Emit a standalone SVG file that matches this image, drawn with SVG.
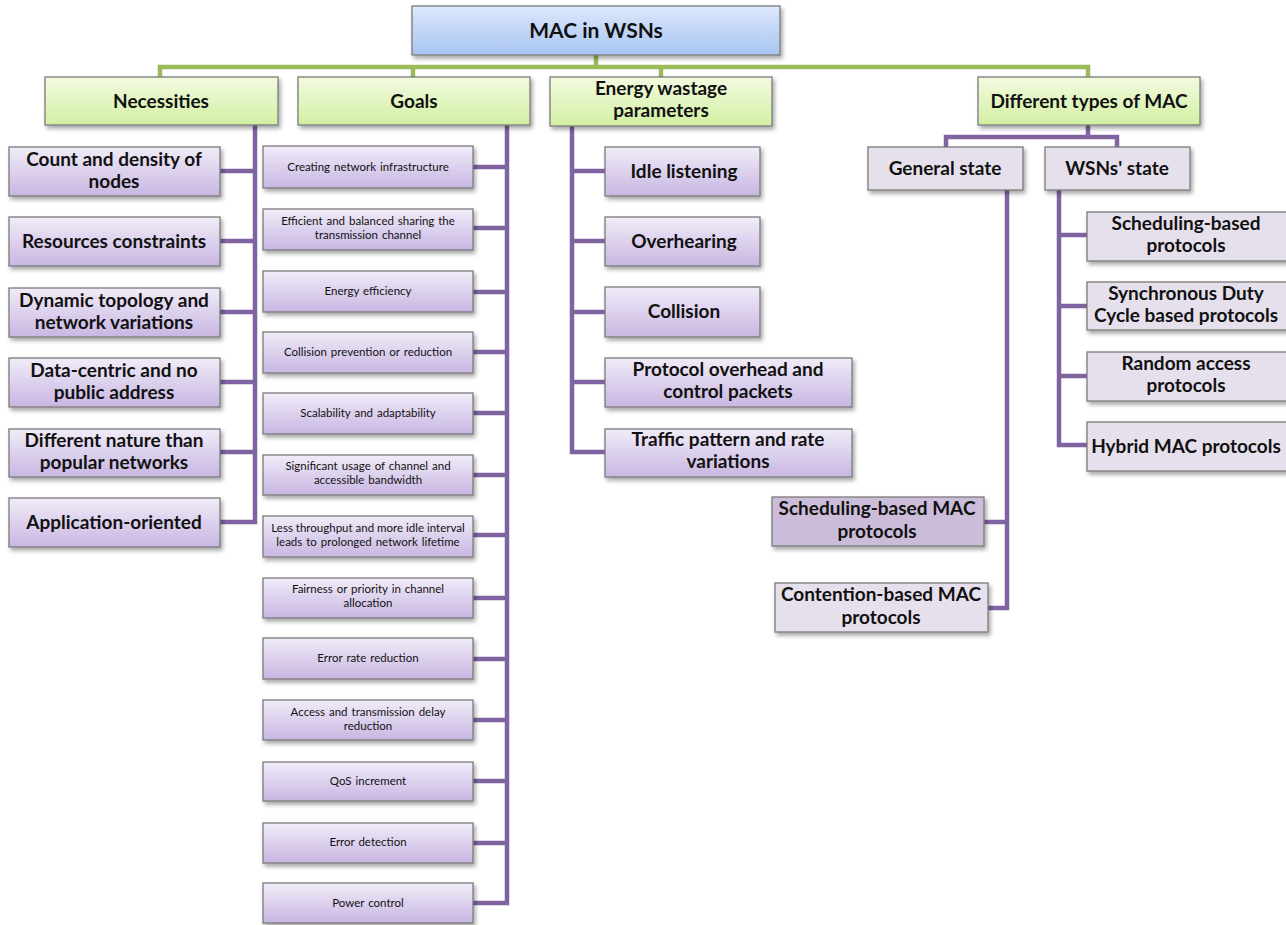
<svg xmlns="http://www.w3.org/2000/svg" width="1286" height="925" viewBox="0 0 1286 925">
<defs>
<linearGradient id="gBlue" x1="0" y1="0" x2="0" y2="1"><stop offset="0" stop-color="#dde8fb"/><stop offset="1" stop-color="#a8c4f2"/></linearGradient>
<linearGradient id="gGreen" x1="0" y1="0" x2="0" y2="1"><stop offset="0" stop-color="#f3fbe0"/><stop offset="1" stop-color="#d2efa2"/></linearGradient>
<linearGradient id="gPurple" x1="0" y1="0" x2="0" y2="1"><stop offset="0" stop-color="#f1ecf8"/><stop offset="1" stop-color="#c8b6e2"/></linearGradient>
<filter id="sh" x="-10%" y="-20%" width="125%" height="160%"><feDropShadow dx="2" dy="3" stdDeviation="2" flood-color="#000" flood-opacity="0.35"/></filter>
<style>
rect{stroke:#7a7a7a;stroke-width:1.3;filter:url(#sh)}
.root{fill:url(#gBlue)}
.l1{fill:url(#gGreen)}
.pu{fill:url(#gPurple)}
.lav{fill:#e6e0ec}
.dk{fill:#cbbdd9}
text{font-family:Lato,"Liberation Sans",sans-serif;fill:#111;text-anchor:middle}
.b{font-weight:bold;font-size:19px}
.t{font-weight:bold;font-size:21px}
.s{font-size:11.5px;word-spacing:1px}
.gc{fill:none;stroke:#9bbb59;stroke-width:4.5}
.pc{fill:none;stroke:#8064a2;stroke-width:4.5}
</style>
</defs>
<rect x="0" y="0" width="1286" height="925" fill="#fff" style="stroke:none;filter:none"/>
<g id="connectors">
<path class="gc" d="M596,55V67M160,77V67H1088V77M413,67V77M661,67V77"/>
<path class="pc" d="M255,125V522H220M220,171H255M220,241H255M220,312H255M220,382H255M220,452H255"/>
<path class="pc" d="M507,125V903H473M473,167H507M473,228H507M473,292H507M473,352H507M473,413H507M473,475H507M473,535H507M473,598H507M473,659H507M473,720H507M473,781H507M473,843H507"/>
<path class="pc" d="M572,126V452H605M572,171H605M572,241H605M572,312H605M572,382H605"/>
<path class="pc" d="M1088,125V137M946,147V137H1117V147"/>
<path class="pc" d="M1007,190V608H988M984,522H1007"/>
<path class="pc" d="M1059,190V445H1087M1059,235H1087M1059,306H1087M1059,376H1087"/>
</g>
<g id="root"><rect class="root" x="412" y="6" width="368" height="49"/><text class="t" x="596" y="38">MAC in WSNs</text></g>
<g id="necessities"><rect class="l1" x="45" y="77" width="233" height="48"/><text class="b" x="161" y="108">Necessities</text></g>
<g id="goals"><rect class="l1" x="298" y="77" width="232" height="48"/><text class="b" x="414" y="108">Goals</text></g>
<g id="energy"><rect class="l1" x="550" y="77" width="222" height="49"/><text class="b" x="661" y="95">Energy wastage</text><text class="b" x="661" y="117">parameters</text></g>
<g id="types"><rect class="l1" x="978" y="77" width="222" height="48"/><text class="b" x="1089" y="108">Different types of MAC</text></g>

<g id="n1"><rect class="pu" x="9" y="147" width="211" height="49"/><text class="b" x="114" y="166">Count and density of</text><text class="b" x="114" y="188">nodes</text></g>
<g id="n2"><rect class="pu" x="9" y="217" width="211" height="49"/><text class="b" x="114" y="248">Resources constraints</text></g>
<g id="n3"><rect class="pu" x="9" y="288" width="211" height="49"/><text class="b" x="114" y="307">Dynamic topology and</text><text class="b" x="114" y="329">network variations</text></g>
<g id="n4"><rect class="pu" x="9" y="358" width="211" height="49"/><text class="b" x="114" y="377">Data-centric and no</text><text class="b" x="114" y="399">public address</text></g>
<g id="n5"><rect class="pu" x="9" y="429" width="211" height="48"/><text class="b" x="114" y="447">Different nature than</text><text class="b" x="114" y="469">popular networks</text></g>
<g id="n6"><rect class="pu" x="9" y="498" width="211" height="49"/><text class="b" x="114" y="529">Application-oriented</text></g>

<g id="g1"><rect class="pu" x="263" y="146" width="210" height="42"/><text class="s" x="368" y="171">Creating network infrastructure</text></g>
<g id="g2"><rect class="pu" x="263" y="209" width="210" height="41"/><text class="s" x="368" y="225">Efficient and balanced sharing the</text><text class="s" x="368" y="239">transmission channel</text></g>
<g id="g3"><rect class="pu" x="263" y="271" width="210" height="41"/><text class="s" x="368" y="295">Energy efficiency</text></g>
<g id="g4"><rect class="pu" x="263" y="332" width="210" height="41"/><text class="s" x="368" y="356">Collision prevention or reduction</text></g>
<g id="g5"><rect class="pu" x="263" y="393" width="210" height="41"/><text class="s" x="368" y="417">Scalability and adaptability</text></g>
<g id="g6"><rect class="pu" x="263" y="455" width="210" height="40"/><text class="s" x="368" y="470">Significant usage of channel and</text><text class="s" x="368" y="484">accessible bandwidth</text></g>
<g id="g7"><rect class="pu" x="263" y="516" width="210" height="41"/><text class="s" x="368" y="532" style="word-spacing:0">Less throughput and more idle interval</text><text class="s" x="368" y="546">leads to prolonged network lifetime</text></g>
<g id="g8"><rect class="pu" x="263" y="578" width="210" height="40"/><text class="s" x="368" y="593">Fairness or priority in channel</text><text class="s" x="368" y="607">allocation</text></g>
<g id="g9"><rect class="pu" x="263" y="638" width="210" height="41"/><text class="s" x="368" y="662">Error rate reduction</text></g>
<g id="g10"><rect class="pu" x="263" y="700" width="210" height="40"/><text class="s" x="368" y="716">Access and transmission delay</text><text class="s" x="368" y="730">reduction</text></g>
<g id="g11"><rect class="pu" x="263" y="762" width="210" height="39"/><text class="s" x="368" y="785">QoS increment</text></g>
<g id="g12"><rect class="pu" x="263" y="823" width="210" height="40"/><text class="s" x="368" y="846">Error detection</text></g>
<g id="g13"><rect class="pu" x="263" y="883" width="210" height="40"/><text class="s" x="368" y="907">Power control</text></g>

<g id="e1"><rect class="pu" x="605" y="147" width="155" height="49"/><text class="b" x="684" y="178">Idle listening</text></g>
<g id="e2"><rect class="pu" x="605" y="217" width="155" height="49"/><text class="b" x="684" y="248">Overhearing</text></g>
<g id="e3"><rect class="pu" x="605" y="287" width="155" height="50"/><text class="b" x="684" y="318">Collision</text></g>
<g id="e4"><rect class="pu" x="605" y="358" width="247" height="49"/><text class="b" x="728" y="376">Protocol overhead and</text><text class="b" x="728" y="398">control packets</text></g>
<g id="e5"><rect class="pu" x="605" y="429" width="247" height="48"/><text class="b" x="728" y="446">Traffic pattern and rate</text><text class="b" x="728" y="468">variations</text></g>

<g id="general"><rect class="lav" x="868" y="147" width="155" height="43"/><text class="b" x="945" y="175">General state</text></g>
<g id="wsns"><rect class="lav" x="1045" y="147" width="145" height="43"/><text class="b" x="1117" y="175">WSNs' state</text></g>
<g id="schedmac"><rect class="dk" x="772" y="497" width="212" height="49"/><text class="b" x="877" y="515">Scheduling-based MAC</text><text class="b" x="877" y="538">protocols</text></g>
<g id="contmac"><rect class="lav" x="775" y="583" width="213" height="49"/><text class="b" x="881" y="601">Contention-based MAC</text><text class="b" x="881" y="624">protocols</text></g>

<g id="w1"><rect class="lav" x="1087" y="212" width="205" height="49"/><text class="b" x="1186" y="230">Scheduling-based</text><text class="b" x="1186" y="252">protocols</text></g>
<g id="w2"><rect class="lav" x="1087" y="282" width="205" height="48"/><text class="b" x="1186" y="300">Synchronous Duty</text><text class="b" x="1186" y="322">Cycle based protocols</text></g>
<g id="w3"><rect class="lav" x="1087" y="352" width="205" height="49"/><text class="b" x="1186" y="370">Random access</text><text class="b" x="1186" y="392">protocols</text></g>
<g id="w4"><rect class="lav" x="1087" y="422" width="205" height="49"/><text class="b" x="1186" y="453">Hybrid MAC protocols</text></g>
</svg>
